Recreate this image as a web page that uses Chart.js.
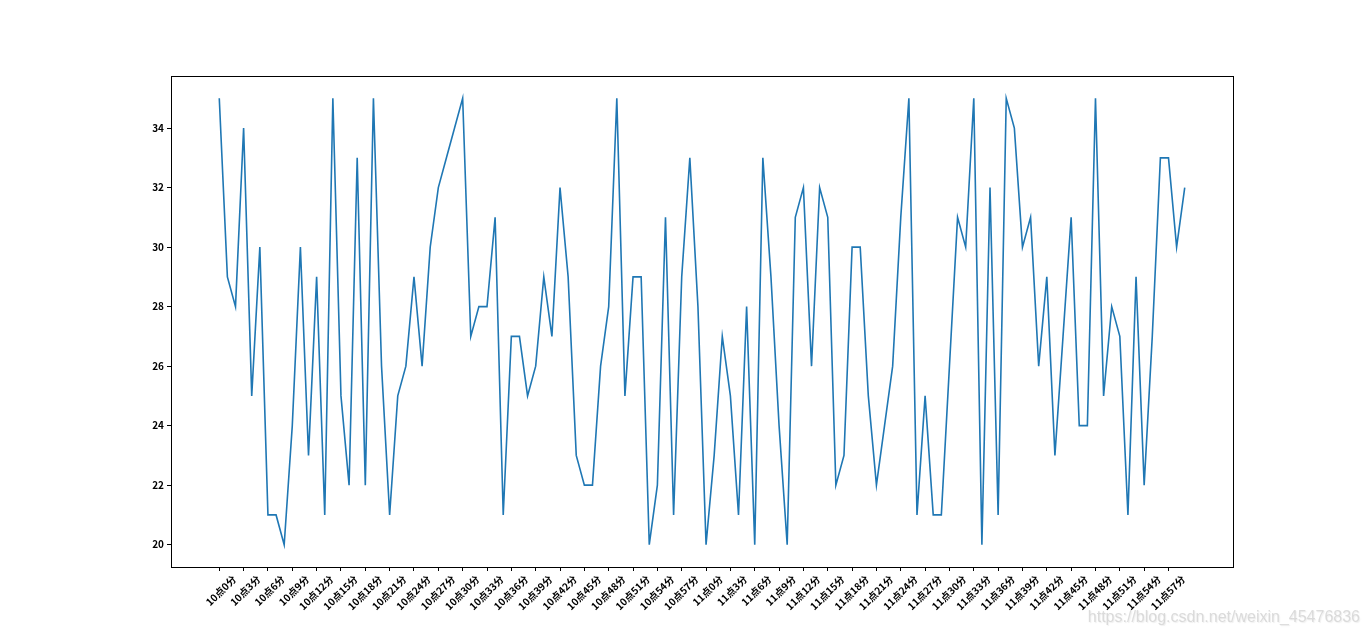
<!DOCTYPE html>
<html>
<head>
<meta charset="utf-8">
<script src="https://cdn.jsdelivr.net/npm/chart.js@4/dist/chart.umd.min.js"></script>
<style>
  html, body { margin: 0; padding: 0; background: #fff; }
  #wrap { position: relative; width: 1370px; height: 637px; }
  #wm { position: absolute; right: 10px; top: 608px; font-family: "Liberation Sans", Arial, sans-serif;
        font-size: 16px; color: rgba(205,205,205,0.7); text-shadow: 1px 1px 1px rgba(235,235,235,0.8); }
</style>
</head>
<body>
<div id="wrap">
  <canvas id="c" width="1370" height="637"></canvas>
  <div id="wm">https://blog.csdn.net/weixin_45476836</div>
</div>
<script>
// ---- data ----
const hours = [10, 11];
const minutesPerHour = 60;
const categories = [];
for (const h of hours) for (let m = 0; m < minutesPerHour; m++) categories.push(h + '点' + m + '分');

const values = [
  35,29,28,34,25,30,21,21,20,24,30,23,29,21,35,25,22,33,22,35,
  26,21,25,26,29,26,30,32,33,34,35,27,28,28,31,21,27,27,25,26,
  29,27,32,29,23,22,22,26,28,35,25,29,29,20,22,31,21,29,33,28,
  20,23,27,25,21,28,20,33,29,24,20,31,32,26,32,31,22,23,30,30,
  25,22,24,26,31,35,21,25,21,21,26,31,30,35,20,32,21,35,34,30,
  31,26,29,23,27,31,24,24,35,25,28,27,21,29,22,27,33,33,30,32
];

const xTickStep = 3;
const yTickValues = [20, 22, 24, 26, 28, 30, 32, 34];

// ---- build ----
const points = values.map((v, i) => ({ x: i, y: v }));
const xTickIdx = categories.map((_, i) => i).filter(i => i % xTickStep === 0);
const n = values.length;
const xMargin = (n - 1) * 0.05;
const yMin = Math.min(...values), yMax = Math.max(...values);
const yMargin = (yMax - yMin) * 0.05;

const boxPlugin = {
  id: 'box',
  afterDraw(chart) {
    const a = chart.chartArea, ctx = chart.ctx;
    ctx.save();
    ctx.strokeStyle = '#000';
    ctx.lineWidth = 1;
    ctx.strokeRect(Math.round(a.left) + 0.5, Math.round(a.top) + 0.5,
                   Math.round(a.right - a.left), Math.round(a.bottom - a.top));
    ctx.restore();
  }
};

const tickFont = { family: '"Noto Sans CJK SC", "DejaVu Sans", sans-serif', size: 10, weight: 'bold' };

new Chart(document.getElementById('c'), {
  type: 'line',
  data: {
    datasets: [{
      data: points,
      borderColor: '#1f77b4',
      borderWidth: 1.6,
      pointRadius: 0,
      tension: 0,
      fill: false
    }]
  },
  options: {
    responsive: false,
    animation: false,
    devicePixelRatio: 1,
    layout: { padding: { top: 76, right: 137, left: 0, bottom: 0 } },
    plugins: { legend: { display: false }, tooltip: { enabled: false } },
    scales: {
      x: {
        type: 'linear',
        min: -xMargin,
        max: (n - 1) + xMargin,
        afterBuildTicks: (axis) => { axis.ticks = xTickIdx.map(v => ({ value: v })); },
        afterFit: (s) => { s.height = 70; },
        grid: { drawOnChartArea: false, tickLength: 4, color: '#000', tickColor: '#000' },
        border: { display: false },
        ticks: {
          minRotation: 45, maxRotation: 45, autoSkip: false,
          labelOffset: 15, padding: 2,
          color: '#000', font: tickFont,
          callback: (v) => categories[v] ?? ''
        }
      },
      y: {
        type: 'linear',
        min: yMin - yMargin,
        max: yMax + yMargin,
        afterBuildTicks: (axis) => { axis.ticks = yTickValues.map(v => ({ value: v })); },
        afterFit: (s) => { s.width = 171; },
        grid: { drawOnChartArea: false, tickLength: 4, color: '#000', tickColor: '#000' },
        border: { display: false },
        ticks: { color: '#000', font: tickFont, padding: 3 }
      }
    }
  },
  plugins: [boxPlugin]
});
</script>
</body>
</html>
